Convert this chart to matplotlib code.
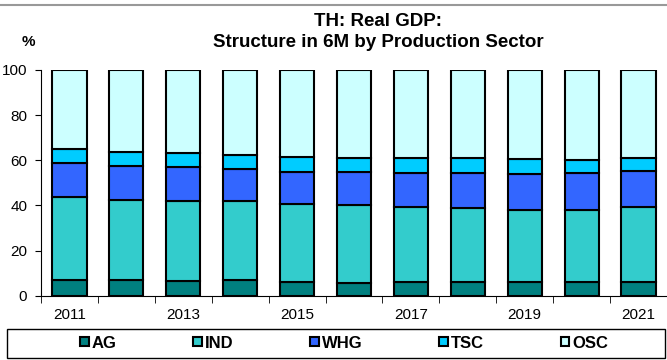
import matplotlib.pyplot as plt
import numpy as np
from matplotlib.patches import Rectangle
from matplotlib.lines import Line2D

plt.rcParams['font.family'] = ['Liberation Sans', 'DejaVu Sans']

years = [2011, 2012, 2013, 2014, 2015, 2016, 2017, 2018, 2019, 2020, 2021]
ag = [7.1, 7.1, 6.8, 7.1, 6.0, 5.6, 6.0, 6.3, 6.0, 6.0, 6.0]
ind = [36.6, 35.4, 35.2, 34.9, 34.7, 34.4, 33.4, 32.8, 32.2, 31.8, 33.4]
whg = [14.9, 15.0, 15.1, 14.3, 14.3, 14.7, 14.9, 15.2, 15.6, 16.5, 15.9]
tsc = [6.3, 6.2, 5.9, 6.1, 6.4, 6.5, 6.8, 6.8, 6.8, 6.0, 5.5]
osc = [35.1, 36.3, 37.0, 37.6, 38.6, 38.8, 38.9, 38.9, 39.4, 39.7, 39.2]

series = [ag, ind, whg, tsc, osc]
labels = ['AG', 'IND', 'WHG', 'TSC', 'OSC']
colors = ['#008080', '#33CCCC', '#3366FF', '#00CCFF', '#CCFFFF']

fig = plt.figure(figsize=(6.67, 3.6), dpi=100)
ax = fig.add_axes([0.0615, 0.178, 0.9385, 0.628])

x = np.arange(len(years))
bottom = np.zeros(len(years))
for vals, lab, col in zip(series, labels, colors):
    ax.bar(x, vals, 0.6, bottom=bottom, color=col, edgecolor='black',
           linewidth=1.5, label=lab)
    bottom += np.array(vals)

ax.set_ylim(0, 100)
ax.set_xlim(-0.5, 10.37)
ax.set_yticks([0, 20, 40, 60, 80, 100])
ax.tick_params(axis='y', labelsize=11, direction='out', length=4, pad=6)
ax.set_xticks(x[::2])
ax.set_xticklabels([str(y) for y in years[::2]], fontsize=11)
ax.tick_params(axis='x', length=0, pad=9)
ax.set_xticks(np.arange(-0.5, 11, 1), minor=True)
ax.tick_params(axis='x', which='minor', length=5, direction='out')
ax.spines['top'].set_visible(False)
ax.spines['right'].set_visible(False)

fig.text(0.567, 0.939, 'TH: Real GDP:', ha='center', va='center',
         fontsize=13.5, fontweight='bold')
fig.text(0.567, 0.883, 'Structure in 6M by Production Sector', ha='center',
         va='center', fontsize=13.5, fontweight='bold')
fig.text(0.042, 0.883, '%', ha='center', va='center', fontsize=11,
         fontweight='bold')

# thin gray rule at the top
fig.add_artist(Line2D([0, 1], [0.986, 0.986], color='#999999', linewidth=1.5))

# legend frame
fig.add_artist(Rectangle((0.0105, 0.006), 0.9865, 0.081, fill=False,
                         edgecolor='black', linewidth=1))
leg = fig.legend(loc='center', bbox_to_anchor=(0.516, 0.047), ncol=5,
                 frameon=False, handlelength=0.5, handleheight=0.5,
                 handletextpad=0.2, columnspacing=4.6,
                 prop={'weight': 'bold', 'size': 12})

plt.savefig('out.png', dpi=100)
